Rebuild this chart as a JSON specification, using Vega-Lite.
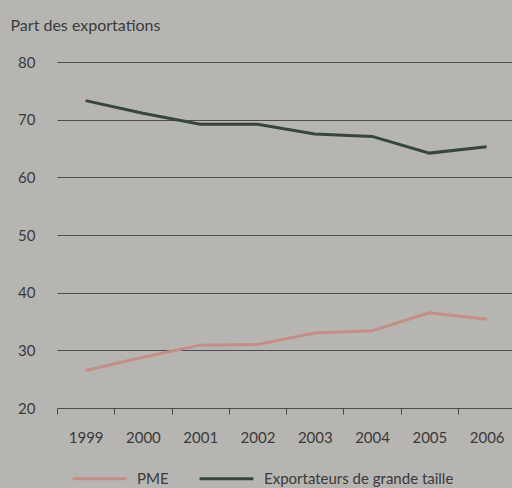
{
  "$schema": "https://vega.github.io/schema/vega-lite/v6.json",
  "width": 462,
  "height": 346,
  "autosize": {"type": "none"},
  "padding": {"left": 50, "top": 62, "right": 0, "bottom": 80},
  "background": "#b7b5b2",
  "config": {
    "view": {"stroke": null},
    "font": "Lato",
    "axis": {"labelFont": "Lato", "titleFont": "Lato"},
    "legend": {"labelFont": "Lato"}
  },
  "data": {
    "values": [
      {"annee": "1999", "serie": "PME", "part": 26.5},
      {"annee": "2000", "serie": "PME", "part": 28.8},
      {"annee": "2001", "serie": "PME", "part": 30.9},
      {"annee": "2002", "serie": "PME", "part": 31.0},
      {"annee": "2003", "serie": "PME", "part": 33.0},
      {"annee": "2004", "serie": "PME", "part": 33.4},
      {"annee": "2005", "serie": "PME", "part": 36.5},
      {"annee": "2006", "serie": "PME", "part": 35.4},
      {"annee": "1999", "serie": "Exportateurs de grande taille", "part": 73.3},
      {"annee": "2000", "serie": "Exportateurs de grande taille", "part": 71.1},
      {"annee": "2001", "serie": "Exportateurs de grande taille", "part": 69.2},
      {"annee": "2002", "serie": "Exportateurs de grande taille", "part": 69.2},
      {"annee": "2003", "serie": "Exportateurs de grande taille", "part": 67.5},
      {"annee": "2004", "serie": "Exportateurs de grande taille", "part": 67.1},
      {"annee": "2005", "serie": "Exportateurs de grande taille", "part": 64.2},
      {"annee": "2006", "serie": "Exportateurs de grande taille", "part": 65.3}
    ]
  },
  "mark": {"type": "line", "strokeWidth": 3},
  "encoding": {
    "x": {
      "field": "annee",
      "type": "ordinal",
      "scale": {"type": "band", "range": [7, 465.3], "paddingInner": 0, "paddingOuter": 0},
      "axis": {
        "title": null,
        "domain": false,
        "grid": false,
        "tickBand": "extent",
        "ticks": true,
        "tickSize": 6,
        "tickColor": "#4a4a4a",
        "tickWidth": 1,
        "labelAngle": 0,
        "labelPadding": 16,
        "labelFontSize": 15,
        "labelColor": "#3a3a3a"
      }
    },
    "y": {
      "field": "part",
      "type": "quantitative",
      "scale": {"domain": [20, 80], "nice": false, "zero": false},
      "axis": {
        "values": [20, 30, 40, 50, 60, 70, 80],
        "domain": false,
        "ticks": false,
        "grid": true,
        "gridColor": "#4d4d4d",
        "gridWidth": 1,
        "gridOpacity": 1,
        "labelPadding": 15,
        "labelFontSize": 15,
        "labelColor": "#3a3a3a",
        "title": "Part des exportations",
        "titleAngle": 0,
        "titleAlign": "left",
        "titleBaseline": "alphabetic",
        "titleX": -40,
        "titleY": -32,
        "titleFontSize": 16,
        "titleFontWeight": "normal",
        "titleColor": "#3a3a3a"
      }
    },
    "color": {
      "field": "serie",
      "type": "nominal",
      "scale": {"domain": ["PME", "Exportateurs de grande taille"], "range": ["#c48e88", "#36463c"]},
      "legend": {
        "title": null,
        "orient": "none",
        "direction": "horizontal",
        "legendX": 21,
        "legendY": 388,
        "symbolType": "stroke",
        "symbolSize": 2900,
        "symbolStrokeWidth": 3,
        "labelFontSize": 15,
        "labelLimit": 400,
        "labelColor": "#3a3a3a",
        "labelOffset": 9,
        "columnPadding": 24
      }
    }
  }
}
